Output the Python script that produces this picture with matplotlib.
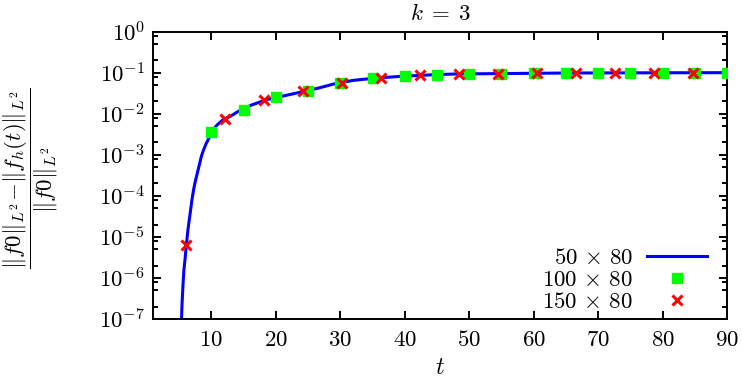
"""Relative L2 norm loss against time for k = 3 (three mesh resolutions)."""

import math

import matplotlib

matplotlib.use("Agg")
import matplotlib.pyplot as plt
from matplotlib.ticker import FixedLocator, FuncFormatter, LogLocator, NullFormatter

# 50 x 80 run
t_50 = [5.39, 5.44, 5.54, 5.65, 5.75, 5.91, 6.06, 6.21, 6.37, 6.58, 6.79, 6.99,
        7.25, 7.51, 7.82, 8.13, 8.45, 8.80, 9.22, 9.74, 10.25, 10.93, 11.8, 12.84,
        13.6, 14.1, 16.2, 18.5, 21.1, 23.7, 26.5, 28.9, 32.0, 35.6, 39.2, 44.4,
        48.0, 55.0, 65.0, 75.0, 90.0]
err_50 = [1.15e-7, 2.04e-7, 4.27e-7, 9.1e-7, 1.58e-6, 2.75e-6, 4.9e-6, 8.5e-6,
          1.48e-5, 2.63e-5, 4.57e-5, 7.9e-5, 1.41e-4, 2.24e-4, 3.55e-4, 5.6e-4,
          9.1e-4, 1.32e-3, 1.91e-3, 2.75e-3, 4.07e-3, 5.4e-3, 7.1e-3, 8.5e-3,
          1.0e-2, 1.12e-2, 1.62e-2, 2.19e-2, 2.69e-2, 3.31e-2, 4.17e-2, 5.25e-2,
          6.5e-2, 7.4e-2, 8.1e-2, 8.9e-2, 9.3e-2, 9.5e-2, 9.8e-2, 9.9e-2, 1.0e-1]

# 100 x 80 run
t_100 = [10, 15, 20, 25, 30, 35, 40, 45, 50, 55, 60, 65, 70, 75, 80, 85, 90]
err_100 = [3.6e-3, 1.23e-2, 2.5e-2, 3.6e-2, 5.6e-2, 7.3e-2, 8.3e-2, 9.0e-2, 9.3e-2,
           9.5e-2, 9.6e-2, 9.7e-2, 9.8e-2, 9.9e-2, 1.0e-1, 1.0e-1, 1.0e-1]

# 150 x 80 run
t_150 = [6.05, 12.1, 18.15, 24.2, 30.25, 36.3, 42.35, 48.4, 54.45, 60.5, 66.55,
         72.6, 78.65, 84.7]
err_150 = [6.4e-6, 7.4e-3, 2.2e-2, 3.5e-2, 5.7e-2, 7.6e-2, 8.8e-2, 9.2e-2, 9.5e-2,
           9.6e-2, 9.7e-2, 9.8e-2, 9.9e-2, 1.0e-1]

labels = [r"$50\,\times\,80$", r"$100\,\times\,80$", r"$150\,\times\,80$"]
x_ticks = [10, 20, 30, 40, 50, 60, 70, 80, 90]

plt.rcParams.update({
    "mathtext.fontset": "cm",
    "font.family": "serif",
    "font.serif": ["DejaVu Serif"],
    "font.size": 16.5,
    "axes.linewidth": 1.4,
    "xtick.direction": "in",
    "ytick.direction": "in",
    "xtick.top": True,
    "ytick.right": True,
    "xtick.major.size": 6,
    "ytick.major.size": 6,
    "ytick.minor.size": 3.5,
    "xtick.major.width": 1.4,
    "ytick.major.width": 1.4,
    "ytick.minor.width": 1.4,
    "xtick.major.pad": 7,
    "ytick.major.pad": 6,
})

fig = plt.figure(figsize=(7.42, 3.78), dpi=100)
ax = fig.add_axes([0.2066, 0.156, 0.7734, 0.7604])

ax.plot(t_50, err_50, "-", color="#0000ff", linewidth=2.2, label=labels[0], zorder=2)
ax.plot(t_100, err_100, "s", color="#00ff00", markersize=7.5, linestyle="none",
        label=labels[1], zorder=3)
ax.plot(t_150, err_150, "x", color="#ff0000", markersize=7.5, markeredgewidth=2.2,
        linestyle="none", label=labels[2], zorder=4)

ax.set_yscale("log")
ax.set_xlim(1, 90)
ax.set_ylim(1e-7, 1e0)

ax.xaxis.set_major_locator(FixedLocator(x_ticks))
ax.xaxis.set_major_formatter(FuncFormatter(lambda v, p: rf"${v:.0f}$"))
ax.yaxis.set_major_locator(LogLocator(base=10, numticks=20))
ax.yaxis.set_minor_locator(LogLocator(base=10, subs=(2, 5, 8), numticks=20))
ax.yaxis.set_major_formatter(FuncFormatter(lambda v, p: rf"$10^{{{round(math.log10(v))}}}$"))
ax.yaxis.set_minor_formatter(NullFormatter())

ax.set_title(r"$k\;=\;3$", fontsize=16.5, pad=8)
ax.set_xlabel(r"$t$", fontsize=17, labelpad=4)
ax.set_ylabel(r"$\dfrac{\|f0\|_{L^2}\!-\!\|f_h(t)\|_{L^2}}{\|f0\|_{L^2}}$", fontsize=16.5)
ax.yaxis.set_label_coords(-0.162, 0.49)

ax.legend(loc="lower right", bbox_to_anchor=(0.98, -0.01), frameon=False,
          markerfirst=False, handlelength=2.6, handletextpad=0.6,
          labelspacing=0.0, fontsize=16.5, borderaxespad=0.0)

fig.savefig("out.png", dpi=100)
